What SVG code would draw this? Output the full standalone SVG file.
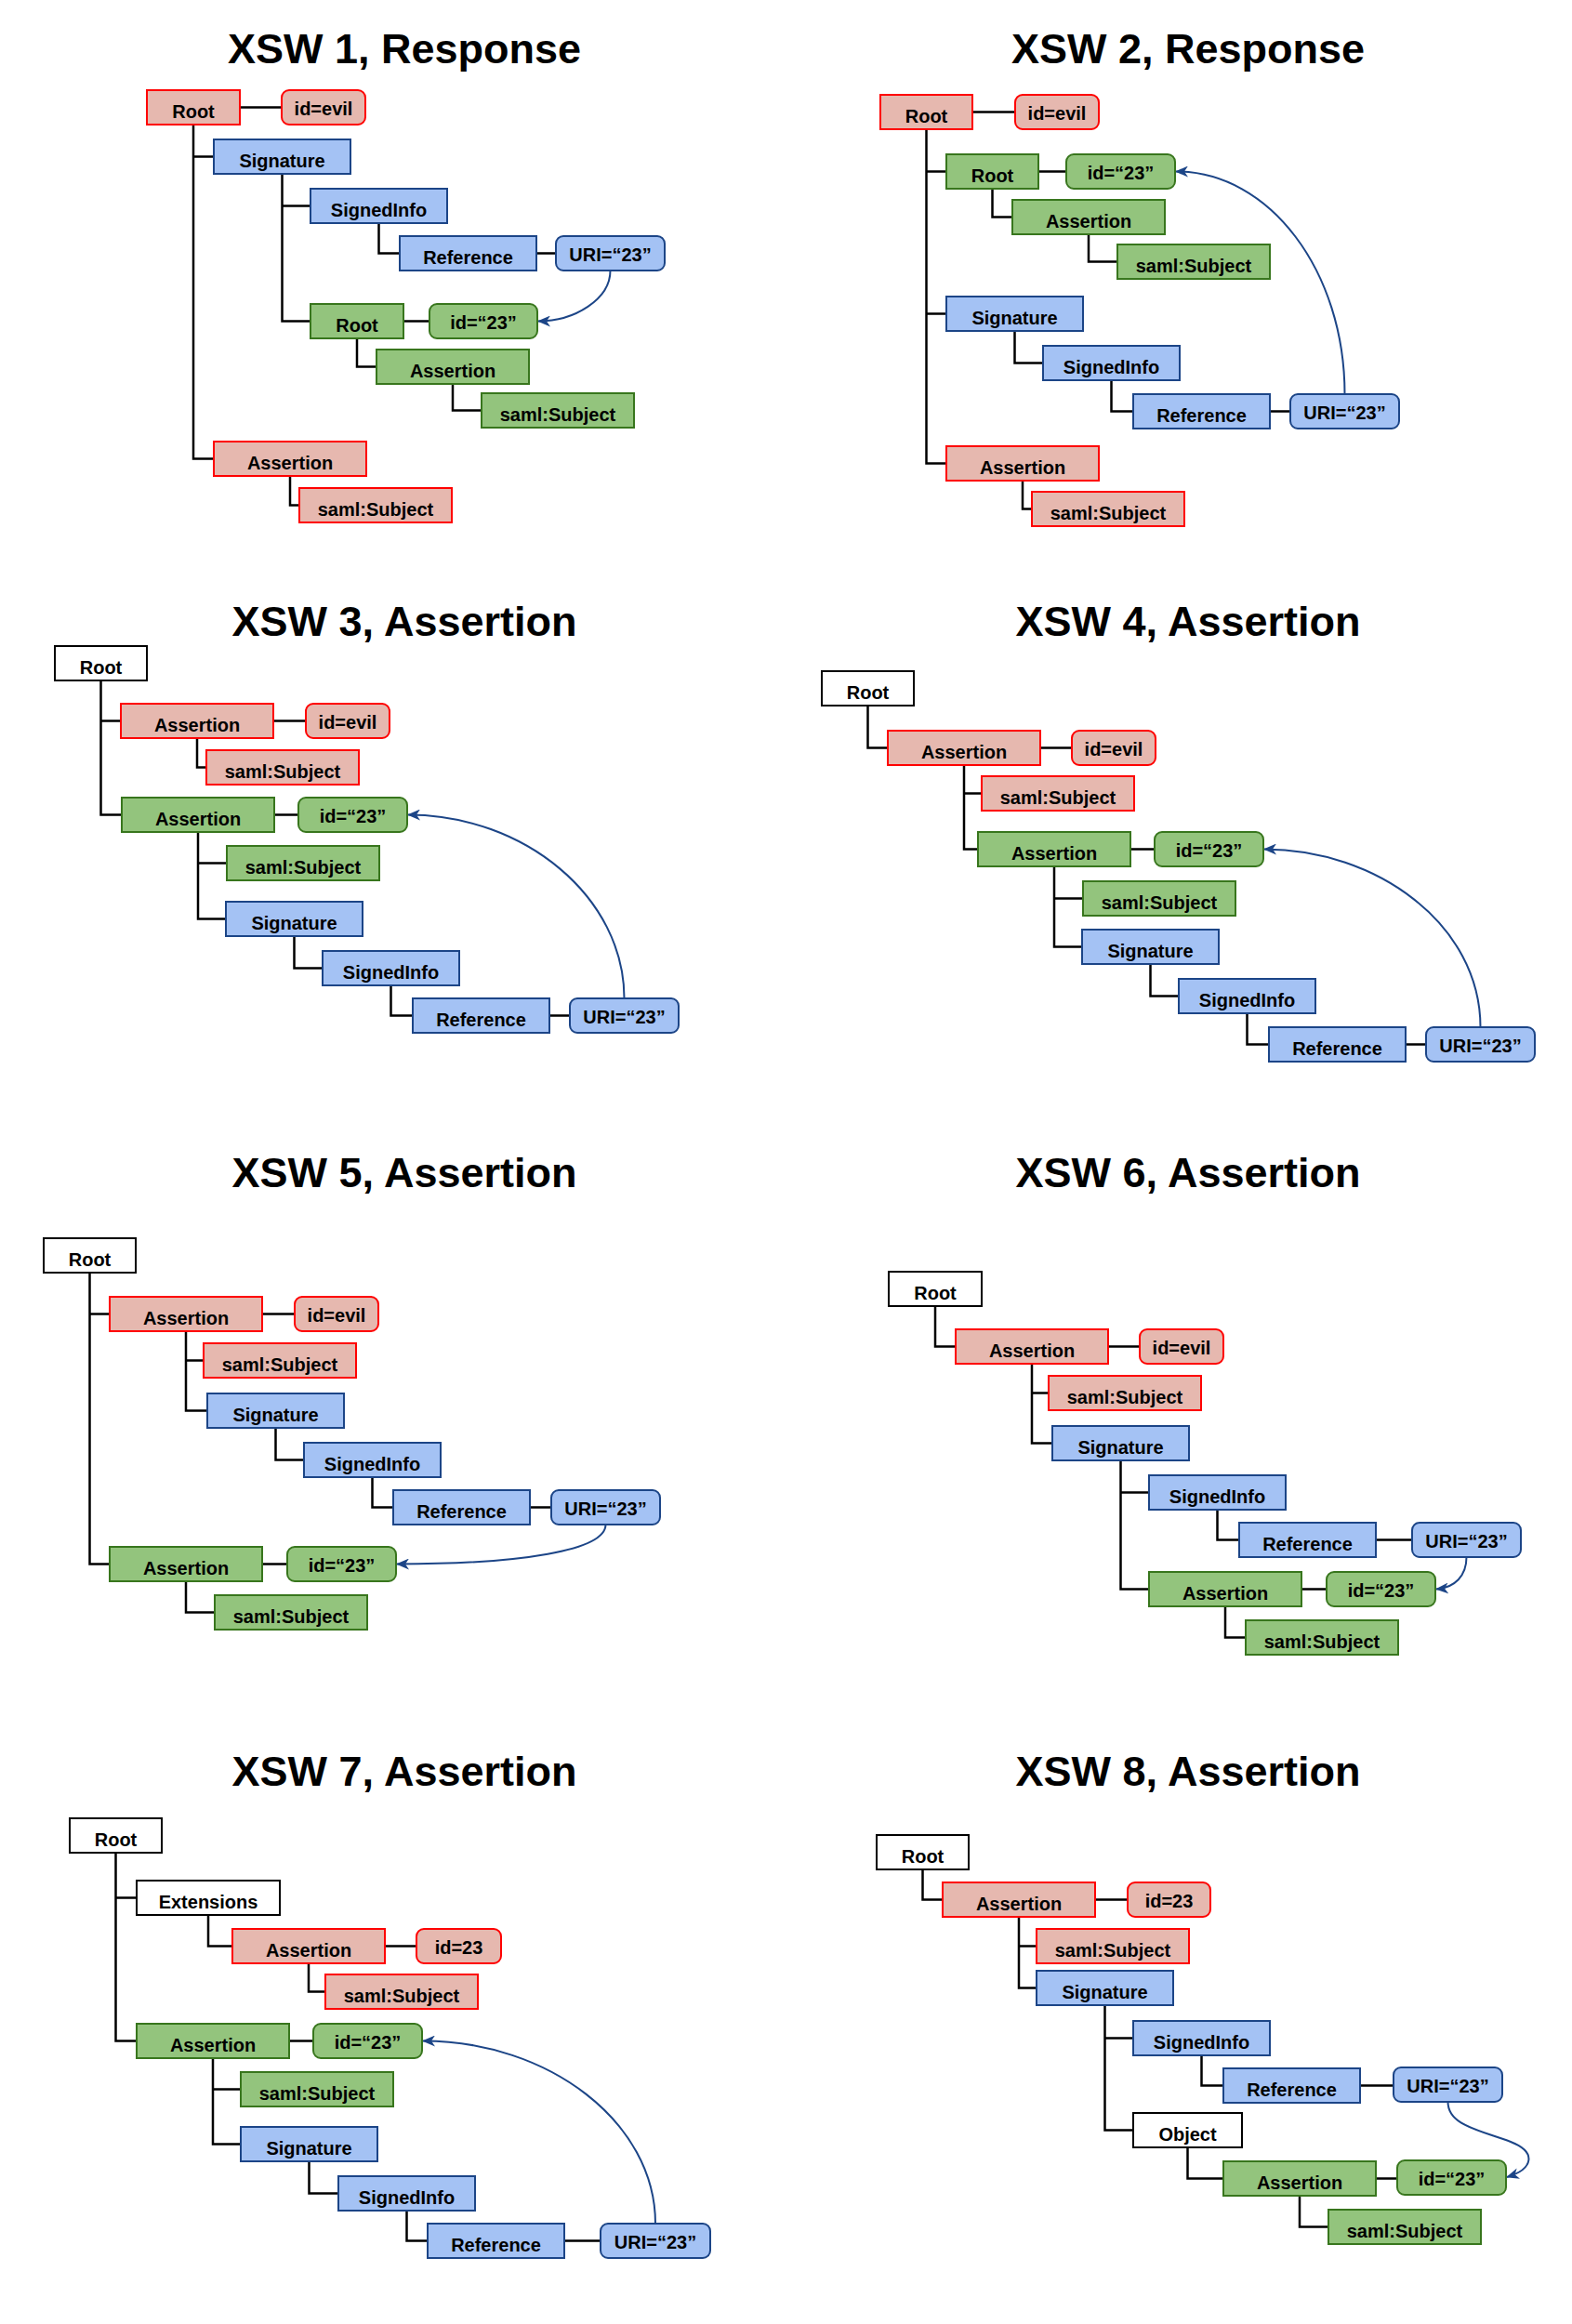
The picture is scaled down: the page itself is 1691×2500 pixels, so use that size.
<svg xmlns="http://www.w3.org/2000/svg" width="1691" height="2500" viewBox="0 0 1691 2500">
<style>
.r{fill:#e6b8af;stroke:#ff0000;stroke-width:2}
.g{fill:#93c47d;stroke:#38761d;stroke-width:2}
.b{fill:#a4c2f4;stroke:#1c4587;stroke-width:2}
.w{fill:#ffffff;stroke:#000000;stroke-width:2}
.t{font-family:"Liberation Sans",Arial,sans-serif;font-weight:bold;font-size:20px;text-anchor:middle;fill:#000}
.ttl{font-family:"Liberation Sans",Arial,sans-serif;font-weight:bold;font-size:45px;text-anchor:middle;fill:#000}
.ln{fill:none;stroke:#000;stroke-width:2.5}
.arr{fill:none;stroke:#1c4587;stroke-width:2;marker-end:url(#ah)}
</style>
<defs>
<marker id="ah" markerUnits="userSpaceOnUse" markerWidth="14" markerHeight="12" refX="13" refY="6" orient="auto">
<path d="M0,0 L14,6 L0,12 L4,6 z" fill="#1c4587"/>
</marker>
</defs>
<rect width="1691" height="2500" fill="#ffffff"/>
<g id="titles">
<text class="ttl" x="435" y="68">XSW 1, Response</text>
<text class="ttl" x="1278" y="68">XSW 2, Response</text>
<text class="ttl" x="435" y="684">XSW 3, Assertion</text>
<text class="ttl" x="1278" y="684">XSW 4, Assertion</text>
<text class="ttl" x="435" y="1277">XSW 5, Assertion</text>
<text class="ttl" x="1278" y="1277">XSW 6, Assertion</text>
<text class="ttl" x="435" y="1921">XSW 7, Assertion</text>
<text class="ttl" x="1278" y="1921">XSW 8, Assertion</text>
</g>
<g id="connectors">
<!-- panel 1 -->
<path class="ln" d="M208,134 V493.5 H230 M208,168.5 H230 M258,115.5 H303 M303.5,187 V345.5 H334 M303.5,221.5 H334 M407.5,240 V272.5 H430 M577,272.5 H598 M434,345.5 H462 M384,364 V394.5 H405 M487,413 V441.5 H518 M312,512 V543.5 H322"/>
<path class="arr" d="M656.5,291 C656.5,322 618,345.5 579,345.5"/>
<!-- panel 2 -->
<path class="ln" d="M996.5,139 V498.5 H1018 M996.5,184.5 H1018 M996.5,337.5 H1018 M1046,120.5 H1092 M1067.5,203 V233.5 H1089 M1117,184.5 H1147 M1171,252 V281.5 H1202 M1091.5,356 V390.5 H1122 M1195.5,409 V442.5 H1219 M1366,442.5 H1388 M1100,517 V547.5 H1110"/>
<path class="arr" d="M1446.5,424 C1446.5,292 1366,184.5 1265,184.5"/>
<!-- panel 3 -->
<path class="ln" d="M108.5,732 V876.5 H131 M108.5,775.5 H130 M294,775.5 H329 M212,794 V825.5 H222 M295,876.5 H321 M213,895 V988.5 H243 M213,928.5 H244 M316.5,1007 V1041.5 H347 M420.5,1060 V1092.5 H444 M591,1092.5 H613"/>
<path class="arr" d="M671.5,1074 C671.5,965 564,876.5 439,876.5"/>
<!-- panel 4 -->
<path class="ln" d="M933.5,759 V804.5 H955 M1119,804.5 H1153 M1037,823 V913.5 H1052 M1037,853.5 H1056 M1216,913.5 H1242 M1134,932 V1018.5 H1164 M1134,966.5 H1165 M1237.5,1037 V1071.5 H1268 M1341.5,1090 V1123.5 H1365 M1512,1123.5 H1534"/>
<path class="arr" d="M1592.5,1105 C1592.5,994 1480,913.5 1360,913.5"/>
<!-- panel 5 -->
<path class="ln" d="M96.5,1369 V1682.5 H118 M96.5,1413.5 H118 M282,1413.5 H317 M200,1432 V1517.5 H223 M200,1463.5 H219 M296.5,1536 V1570.5 H327 M400.5,1589 V1621.5 H423 M570,1621.5 H593 M282,1682.5 H309 M200,1701 V1734.5 H231"/>
<path class="arr" d="M651.5,1640 C651.5,1668 560,1682.5 427,1682.5"/>
<!-- panel 6 -->
<path class="ln" d="M1006,1405 V1448.5 H1028 M1192,1448.5 H1226 M1110,1467 V1552.5 H1132 M1110,1498.5 H1128 M1205.5,1571 V1709.5 H1236 M1205.5,1605.5 H1236 M1309.5,1624 V1656.5 H1333 M1480,1656.5 H1519 M1400,1709.5 H1427 M1318,1728 V1761.5 H1340"/>
<path class="arr" d="M1577.5,1675 C1577.5,1695 1565,1708 1545,1709.5"/>
<!-- panel 7 -->
<path class="ln" d="M124.5,1993 V2195.5 H147 M124.5,2041.5 H147 M224,2060 V2093.5 H250 M414,2093.5 H448 M332,2112 V2142.5 H350 M311,2195.5 H337 M229,2214 V2306.5 H259 M229,2247.5 H259 M332.5,2325 V2359.5 H364 M437.5,2378 V2410.5 H460 M607,2410.5 H646"/>
<path class="arr" d="M705,2392 C705,2283 590,2195.5 455,2195.5"/>
<!-- panel 8 -->
<path class="ln" d="M992.5,2011 V2043.5 H1014 M1178,2043.5 H1213 M1096,2062 V2138.5 H1115 M1096,2093.5 H1115 M1188.5,2157 V2291.5 H1219 M1188.5,2192.5 H1219 M1292.5,2211 V2243.5 H1316 M1463,2243.5 H1499 M1277.5,2310 V2343.5 H1316 M1480,2343.5 H1503 M1398,2362 V2395.5 H1429"/>
<path class="arr" d="M1557.5,2261 C1557.5,2286 1590,2291 1625,2304 C1653,2315 1650,2333 1621,2342"/>
</g>
<!-- Panel 1 -->
<g id="p1-root"><rect class="r" x="158" y="97" width="100" height="37"/><text class="t" x="208" y="127">Root</text></g>
<g id="p1-idevil"><rect class="r" x="303" y="97" width="90" height="37" rx="8"/><text class="t" x="348" y="123.5">id=evil</text></g>
<g id="p1-signature"><rect class="b" x="230" y="150" width="147" height="37"/><text class="t" x="303.5" y="180">Signature</text></g>
<g id="p1-signedinfo"><rect class="b" x="334" y="203" width="147" height="37"/><text class="t" x="407.5" y="233">SignedInfo</text></g>
<g id="p1-reference"><rect class="b" x="430" y="254" width="147" height="37"/><text class="t" x="503.5" y="284">Reference</text></g>
<g id="p1-uri"><rect class="b" x="598" y="254" width="117" height="37" rx="8"/><text class="t" x="656.5" y="280.5">URI=“23”</text></g>
<g id="p1-root2"><rect class="g" x="334" y="327" width="100" height="37"/><text class="t" x="384" y="357">Root</text></g>
<g id="p1-id23"><rect class="g" x="462" y="327" width="116" height="37" rx="8"/><text class="t" x="520" y="353.5">id=“23”</text></g>
<g id="p1-assertion-g"><rect class="g" x="405" y="376" width="164" height="37"/><text class="t" x="487" y="406">Assertion</text></g>
<g id="p1-subject-g"><rect class="g" x="518" y="423" width="164" height="37"/><text class="t" x="600" y="453">saml:Subject</text></g>
<g id="p1-assertion-r"><rect class="r" x="230" y="475" width="164" height="37"/><text class="t" x="312" y="505">Assertion</text></g>
<g id="p1-subject-r"><rect class="r" x="322" y="525" width="164" height="37"/><text class="t" x="404" y="555">saml:Subject</text></g>
<!-- Panel 2 -->
<g id="p2-root"><rect class="r" x="947" y="102" width="99" height="37"/><text class="t" x="996.5" y="132">Root</text></g>
<g id="p2-idevil"><rect class="r" x="1092" y="102" width="90" height="37" rx="8"/><text class="t" x="1137" y="128.5">id=evil</text></g>
<g id="p2-root2"><rect class="g" x="1018" y="166" width="99" height="37"/><text class="t" x="1067.5" y="196">Root</text></g>
<g id="p2-id23"><rect class="g" x="1147" y="166" width="117" height="37" rx="8"/><text class="t" x="1205.5" y="192.5">id=“23”</text></g>
<g id="p2-assertion-g"><rect class="g" x="1089" y="215" width="164" height="37"/><text class="t" x="1171" y="245">Assertion</text></g>
<g id="p2-subject-g"><rect class="g" x="1202" y="263" width="164" height="37"/><text class="t" x="1284" y="293">saml:Subject</text></g>
<g id="p2-signature"><rect class="b" x="1018" y="319" width="147" height="37"/><text class="t" x="1091.5" y="349">Signature</text></g>
<g id="p2-signedinfo"><rect class="b" x="1122" y="372" width="147" height="37"/><text class="t" x="1195.5" y="402">SignedInfo</text></g>
<g id="p2-reference"><rect class="b" x="1219" y="424" width="147" height="37"/><text class="t" x="1292.5" y="454">Reference</text></g>
<g id="p2-uri"><rect class="b" x="1388" y="424" width="117" height="37" rx="8"/><text class="t" x="1446.5" y="450.5">URI=“23”</text></g>
<g id="p2-assertion-r"><rect class="r" x="1018" y="480" width="164" height="37"/><text class="t" x="1100" y="510">Assertion</text></g>
<g id="p2-subject-r"><rect class="r" x="1110" y="529" width="164" height="37"/><text class="t" x="1192" y="559">saml:Subject</text></g>
<!-- Panel 3 -->
<g id="p3-root"><rect class="w" x="59" y="695" width="99" height="37"/><text class="t" x="108.5" y="725">Root</text></g>
<g id="p3-assertion-r"><rect class="r" x="130" y="757" width="164" height="37"/><text class="t" x="212" y="787">Assertion</text></g>
<g id="p3-idevil"><rect class="r" x="329" y="757" width="90" height="37" rx="8"/><text class="t" x="374" y="783.5">id=evil</text></g>
<g id="p3-subject-r"><rect class="r" x="222" y="807" width="164" height="37"/><text class="t" x="304" y="837">saml:Subject</text></g>
<g id="p3-assertion-g"><rect class="g" x="131" y="858" width="164" height="37"/><text class="t" x="213" y="888">Assertion</text></g>
<g id="p3-id23"><rect class="g" x="321" y="858" width="117" height="37" rx="8"/><text class="t" x="379.5" y="884.5">id=“23”</text></g>
<g id="p3-subject-g"><rect class="g" x="244" y="910" width="164" height="37"/><text class="t" x="326" y="940">saml:Subject</text></g>
<g id="p3-signature"><rect class="b" x="243" y="970" width="147" height="37"/><text class="t" x="316.5" y="1000">Signature</text></g>
<g id="p3-signedinfo"><rect class="b" x="347" y="1023" width="147" height="37"/><text class="t" x="420.5" y="1053">SignedInfo</text></g>
<g id="p3-reference"><rect class="b" x="444" y="1074" width="147" height="37"/><text class="t" x="517.5" y="1104">Reference</text></g>
<g id="p3-uri"><rect class="b" x="613" y="1074" width="117" height="37" rx="8"/><text class="t" x="671.5" y="1100.5">URI=“23”</text></g>
<!-- Panel 4 -->
<g id="p4-root"><rect class="w" x="884" y="722" width="99" height="37"/><text class="t" x="933.5" y="752">Root</text></g>
<g id="p4-assertion-r"><rect class="r" x="955" y="786" width="164" height="37"/><text class="t" x="1037" y="816">Assertion</text></g>
<g id="p4-idevil"><rect class="r" x="1153" y="786" width="90" height="37" rx="8"/><text class="t" x="1198" y="812.5">id=evil</text></g>
<g id="p4-subject-r"><rect class="r" x="1056" y="835" width="164" height="37"/><text class="t" x="1138" y="865">saml:Subject</text></g>
<g id="p4-assertion-g"><rect class="g" x="1052" y="895" width="164" height="37"/><text class="t" x="1134" y="925">Assertion</text></g>
<g id="p4-id23"><rect class="g" x="1242" y="895" width="117" height="37" rx="8"/><text class="t" x="1300.5" y="921.5">id=“23”</text></g>
<g id="p4-subject-g"><rect class="g" x="1165" y="948" width="164" height="37"/><text class="t" x="1247" y="978">saml:Subject</text></g>
<g id="p4-signature"><rect class="b" x="1164" y="1000" width="147" height="37"/><text class="t" x="1237.5" y="1030">Signature</text></g>
<g id="p4-signedinfo"><rect class="b" x="1268" y="1053" width="147" height="37"/><text class="t" x="1341.5" y="1083">SignedInfo</text></g>
<g id="p4-reference"><rect class="b" x="1365" y="1105" width="147" height="37"/><text class="t" x="1438.5" y="1135">Reference</text></g>
<g id="p4-uri"><rect class="b" x="1534" y="1105" width="117" height="37" rx="8"/><text class="t" x="1592.5" y="1131.5">URI=“23”</text></g>
<!-- Panel 5 -->
<g id="p5-root"><rect class="w" x="47" y="1332" width="99" height="37"/><text class="t" x="96.5" y="1362">Root</text></g>
<g id="p5-assertion-r"><rect class="r" x="118" y="1395" width="164" height="37"/><text class="t" x="200" y="1425">Assertion</text></g>
<g id="p5-idevil"><rect class="r" x="317" y="1395" width="90" height="37" rx="8"/><text class="t" x="362" y="1421.5">id=evil</text></g>
<g id="p5-subject-r"><rect class="r" x="219" y="1445" width="164" height="37"/><text class="t" x="301" y="1475">saml:Subject</text></g>
<g id="p5-signature"><rect class="b" x="223" y="1499" width="147" height="37"/><text class="t" x="296.5" y="1529">Signature</text></g>
<g id="p5-signedinfo"><rect class="b" x="327" y="1552" width="147" height="37"/><text class="t" x="400.5" y="1582">SignedInfo</text></g>
<g id="p5-reference"><rect class="b" x="423" y="1603" width="147" height="37"/><text class="t" x="496.5" y="1633">Reference</text></g>
<g id="p5-uri"><rect class="b" x="593" y="1603" width="117" height="37" rx="8"/><text class="t" x="651.5" y="1629.5">URI=“23”</text></g>
<g id="p5-assertion-g"><rect class="g" x="118" y="1664" width="164" height="37"/><text class="t" x="200" y="1694">Assertion</text></g>
<g id="p5-id23"><rect class="g" x="309" y="1664" width="117" height="37" rx="8"/><text class="t" x="367.5" y="1690.5">id=“23”</text></g>
<g id="p5-subject-g"><rect class="g" x="231" y="1716" width="164" height="37"/><text class="t" x="313" y="1746">saml:Subject</text></g>
<!-- Panel 6 -->
<g id="p6-root"><rect class="w" x="956" y="1368" width="100" height="37"/><text class="t" x="1006" y="1398">Root</text></g>
<g id="p6-assertion-r"><rect class="r" x="1028" y="1430" width="164" height="37"/><text class="t" x="1110" y="1460">Assertion</text></g>
<g id="p6-idevil"><rect class="r" x="1226" y="1430" width="90" height="37" rx="8"/><text class="t" x="1271" y="1456.5">id=evil</text></g>
<g id="p6-subject-r"><rect class="r" x="1128" y="1480" width="164" height="37"/><text class="t" x="1210" y="1510">saml:Subject</text></g>
<g id="p6-signature"><rect class="b" x="1132" y="1534" width="147" height="37"/><text class="t" x="1205.5" y="1564">Signature</text></g>
<g id="p6-signedinfo"><rect class="b" x="1236" y="1587" width="147" height="37"/><text class="t" x="1309.5" y="1617">SignedInfo</text></g>
<g id="p6-reference"><rect class="b" x="1333" y="1638" width="147" height="37"/><text class="t" x="1406.5" y="1668">Reference</text></g>
<g id="p6-uri"><rect class="b" x="1519" y="1638" width="117" height="37" rx="8"/><text class="t" x="1577.5" y="1664.5">URI=“23”</text></g>
<g id="p6-assertion-g"><rect class="g" x="1236" y="1691" width="164" height="37"/><text class="t" x="1318" y="1721">Assertion</text></g>
<g id="p6-id23"><rect class="g" x="1427" y="1691" width="117" height="37" rx="8"/><text class="t" x="1485.5" y="1717.5">id=“23”</text></g>
<g id="p6-subject-g"><rect class="g" x="1340" y="1743" width="164" height="37"/><text class="t" x="1422" y="1773">saml:Subject</text></g>
<!-- Panel 7 -->
<g id="p7-root"><rect class="w" x="75" y="1956" width="99" height="37"/><text class="t" x="124.5" y="1986">Root</text></g>
<g id="p7-extensions"><rect class="w" x="147" y="2023" width="154" height="37"/><text class="t" x="224" y="2053">Extensions</text></g>
<g id="p7-assertion-r"><rect class="r" x="250" y="2075" width="164" height="37"/><text class="t" x="332" y="2105">Assertion</text></g>
<g id="p7-id23r"><rect class="r" x="448" y="2075" width="91" height="37" rx="8"/><text class="t" x="493.5" y="2101.5">id=23</text></g>
<g id="p7-subject-r"><rect class="r" x="350" y="2124" width="164" height="37"/><text class="t" x="432" y="2154">saml:Subject</text></g>
<g id="p7-assertion-g"><rect class="g" x="147" y="2177" width="164" height="37"/><text class="t" x="229" y="2207">Assertion</text></g>
<g id="p7-id23"><rect class="g" x="337" y="2177" width="117" height="37" rx="8"/><text class="t" x="395.5" y="2203.5">id=“23”</text></g>
<g id="p7-subject-g"><rect class="g" x="259" y="2229" width="164" height="37"/><text class="t" x="341" y="2259">saml:Subject</text></g>
<g id="p7-signature"><rect class="b" x="259" y="2288" width="147" height="37"/><text class="t" x="332.5" y="2318">Signature</text></g>
<g id="p7-signedinfo"><rect class="b" x="364" y="2341" width="147" height="37"/><text class="t" x="437.5" y="2371">SignedInfo</text></g>
<g id="p7-reference"><rect class="b" x="460" y="2392" width="147" height="37"/><text class="t" x="533.5" y="2422">Reference</text></g>
<g id="p7-uri"><rect class="b" x="646" y="2392" width="118" height="37" rx="8"/><text class="t" x="705" y="2418.5">URI=“23”</text></g>
<!-- Panel 8 -->
<g id="p8-root"><rect class="w" x="943" y="1974" width="99" height="37"/><text class="t" x="992.5" y="2004">Root</text></g>
<g id="p8-assertion-r"><rect class="r" x="1014" y="2025" width="164" height="37"/><text class="t" x="1096" y="2055">Assertion</text></g>
<g id="p8-id23r"><rect class="r" x="1213" y="2025" width="89" height="37" rx="8"/><text class="t" x="1257.5" y="2051.5">id=23</text></g>
<g id="p8-subject-r"><rect class="r" x="1115" y="2075" width="164" height="37"/><text class="t" x="1197" y="2105">saml:Subject</text></g>
<g id="p8-signature"><rect class="b" x="1115" y="2120" width="147" height="37"/><text class="t" x="1188.5" y="2150">Signature</text></g>
<g id="p8-signedinfo"><rect class="b" x="1219" y="2174" width="147" height="37"/><text class="t" x="1292.5" y="2204">SignedInfo</text></g>
<g id="p8-reference"><rect class="b" x="1316" y="2225" width="147" height="37"/><text class="t" x="1389.5" y="2255">Reference</text></g>
<g id="p8-uri"><rect class="b" x="1499" y="2224" width="117" height="37" rx="8"/><text class="t" x="1557.5" y="2250.5">URI=“23”</text></g>
<g id="p8-object"><rect class="w" x="1219" y="2273" width="117" height="37"/><text class="t" x="1277.5" y="2303">Object</text></g>
<g id="p8-assertion-g"><rect class="g" x="1316" y="2325" width="164" height="37"/><text class="t" x="1398" y="2355">Assertion</text></g>
<g id="p8-id23"><rect class="g" x="1503" y="2324" width="117" height="37" rx="8"/><text class="t" x="1561.5" y="2350.5">id=“23”</text></g>
<g id="p8-subject-g"><rect class="g" x="1429" y="2377" width="164" height="37"/><text class="t" x="1511" y="2407">saml:Subject</text></g>
</svg>
